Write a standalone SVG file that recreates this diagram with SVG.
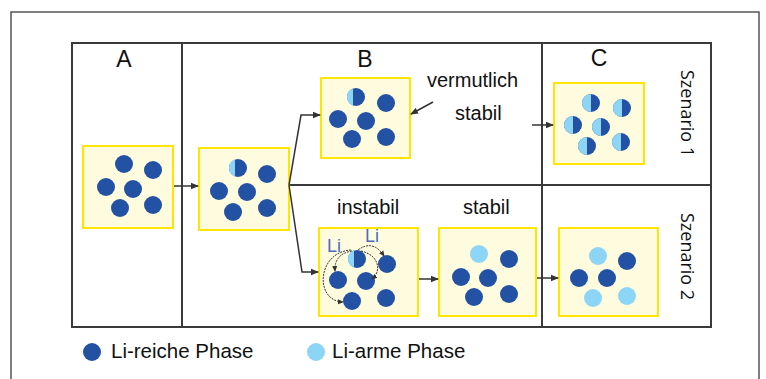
<svg xmlns="http://www.w3.org/2000/svg" width="766" height="379" viewBox="0 0 766 379">
<defs>
<marker id="ah" markerUnits="userSpaceOnUse" markerWidth="8" markerHeight="8" viewBox="0 0 8 8" refX="7" refY="4" orient="auto">
<path d="M0,0.8 L8,4 L0,7.2 Z" fill="#333"/>
</marker>
<marker id="ahs" markerUnits="userSpaceOnUse" markerWidth="6" markerHeight="6" viewBox="0 0 6 6" refX="5" refY="3" orient="auto">
<path d="M0,0.5 L6,3 L0,5.5 Z" fill="#333"/>
</marker>
</defs>
<style>
.frame{fill:none;stroke:#555;stroke-width:1.5}
.grid{fill:none;stroke:#3a3a3a;stroke-width:2}
.box{fill:#fefbdf;stroke:#ffe600;stroke-width:2}
.d{fill:#2352a5}
.l{fill:#8dd5f6}
.t{font-family:"Liberation Sans",Arial,sans-serif;font-size:20px;fill:#111}
.lg{font-family:"Liberation Sans",Arial,sans-serif;font-size:20.5px;fill:#111}
.big{font-family:"Liberation Sans",Arial,sans-serif;font-size:23px;fill:#111;text-anchor:middle}
.sz{font-family:"Open Sans","Liberation Sans",sans-serif;font-size:18px;fill:#111}
.li{font-family:"Liberation Sans",Arial,sans-serif;font-size:18px;fill:#4a6cc0}
.con{fill:none;stroke:#333;stroke-width:1.5;marker-end:url(#ah)}
.arc{fill:none;stroke:#333;stroke-width:1;stroke-dasharray:2 1;marker-end:url(#ahs)}
</style>
<rect width="766" height="379" fill="#fff"/>
<path class="frame" d="M11,379 V12 H759 V379"/>
<g id="table">
<rect class="grid" x="72" y="43" width="639" height="284"/>
<line class="grid" x1="182" y1="43" x2="182" y2="327"/>
<line class="grid" x1="542" y1="43" x2="542" y2="327"/>
<line class="grid" x1="288" y1="185" x2="711" y2="185"/>
</g>
<g id="labels">
<text class="big" x="124" y="67">A</text>
<text class="big" x="365" y="67">B</text>
<text class="big" x="599" y="66">C</text>
<text class="sz" transform="translate(681,70) rotate(90)">Szenario 1</text>
<text class="sz" transform="translate(681,213) rotate(90)">Szenario 2</text>
<text class="t" x="427" y="87">vermutlich</text>
<text class="t" x="455" y="120">stabil</text>
<text class="t" x="337" y="214">instabil</text>
<text class="t" x="463" y="214">stabil</text>
</g>
<g id="box1">
<rect class="box" x="83" y="146" width="90" height="82"/>
<circle class="d" cx="124" cy="164" r="9"/><circle class="d" cx="153" cy="170" r="9"/>
<circle class="d" cx="106" cy="187" r="9"/><circle class="d" cx="133" cy="189" r="9"/>
<circle class="d" cx="120" cy="208" r="9"/><circle class="d" cx="153" cy="205" r="9"/>
</g>
<g id="box2">
<rect class="box" x="199" y="148" width="90" height="82"/>
<circle class="d" cx="238" cy="168" r="9"/><path class="l" d="M235,159.5 A9,9 0 0 0 235,176.5 Z"/>
<circle class="d" cx="267" cy="174" r="9"/>
<circle class="d" cx="219" cy="191" r="9"/><circle class="d" cx="247" cy="192" r="9"/>
<circle class="d" cx="233" cy="212" r="9"/><circle class="d" cx="267" cy="208" r="9"/>
</g>
<g id="box3">
<rect class="box" x="321" y="78" width="89" height="80"/>
<circle class="d" cx="356" cy="97" r="9"/><path class="l" d="M353,88.5 A9,9 0 0 0 353,105.5 Z"/>
<circle class="d" cx="386" cy="103" r="9"/>
<circle class="d" cx="338" cy="119" r="9"/><circle class="d" cx="366" cy="121" r="9"/>
<circle class="d" cx="352" cy="139" r="9"/><circle class="d" cx="386" cy="137" r="9"/>
</g>
<g id="boxC1">
<rect class="box" x="554" y="83" width="90" height="81"/>
<circle class="d" cx="591" cy="103" r="9"/><path class="l" d="M591,94 A9,9 0 0 0 591,112 Z"/>
<circle class="d" cx="622" cy="108" r="9"/><path class="l" d="M622,99 A9,9 0 0 0 622,117 Z"/>
<circle class="d" cx="573" cy="125" r="9"/><path class="l" d="M573,116 A9,9 0 0 0 573,134 Z"/>
<circle class="d" cx="601" cy="127" r="9"/><path class="l" d="M601,118 A9,9 0 0 0 601,136 Z"/>
<circle class="d" cx="587" cy="146" r="9"/><path class="l" d="M587,137 A9,9 0 0 0 587,155 Z"/>
<circle class="d" cx="621" cy="142" r="9"/><path class="l" d="M621,133 A9,9 0 0 0 621,151 Z"/>
</g>
<g id="box4">
<rect class="box" x="319" y="228" width="99" height="88"/>
<circle class="d" cx="357" cy="259" r="9"/><path class="l" d="M354,250.5 A9,9 0 0 0 354,267.5 Z"/>
<circle class="d" cx="387" cy="264" r="9"/>
<circle class="d" cx="338" cy="280" r="9"/><circle class="d" cx="366" cy="281" r="9"/>
<circle class="d" cx="352" cy="301" r="9"/><circle class="d" cx="386" cy="298" r="9"/>
<text class="li" x="327" y="252">Li</text>
<text class="li" x="365" y="242">Li</text>
<path class="arc" d="M358,250 Q373,239 384,256"/>
<path class="arc" d="M352,251 Q334,254 335,271"/>
<path class="arc" d="M351,250 C317,252 314,301 343,302"/>
<path class="arc" d="M361,251 C379,255 382,271 372,279"/>
</g>
<g id="box5">
<rect class="box" x="439" y="228" width="97" height="88"/>
<circle class="l" cx="479" cy="254" r="9"/><circle class="d" cx="509" cy="259" r="9"/>
<circle class="d" cx="461" cy="277" r="9"/><circle class="d" cx="488" cy="278" r="9"/>
<circle class="d" cx="474" cy="297" r="9"/><circle class="d" cx="509" cy="294" r="9"/>
</g>
<g id="boxC2">
<rect class="box" x="559" y="228" width="99" height="88"/>
<circle class="l" cx="598" cy="256" r="9"/><circle class="d" cx="627" cy="261" r="9"/>
<circle class="d" cx="579" cy="278" r="9"/><circle class="d" cx="607" cy="278" r="9"/>
<circle class="l" cx="593" cy="298" r="9"/><circle class="l" cx="627" cy="296" r="9"/>
</g>
<g id="connectors">
<line class="con" x1="174" y1="186" x2="198" y2="186"/>
<polyline class="con" points="289,185 301,115 320,115"/>
<polyline class="con" points="289,185 302,272 318,272"/>
<line class="con" x1="433" y1="102" x2="411" y2="114"/>
<line class="con" x1="532" y1="125" x2="553" y2="125"/>
<line class="con" x1="419" y1="279" x2="438" y2="279"/>
<line class="con" x1="537" y1="278" x2="558" y2="278"/>
</g>
<g id="legend">
<circle class="d" cx="92" cy="352" r="9"/>
<text class="lg" x="111" y="358">Li-reiche Phase</text>
<circle class="l" cx="316" cy="352" r="9"/>
<text class="lg" x="332" y="358">Li-arme Phase</text>
</g>
</svg>
